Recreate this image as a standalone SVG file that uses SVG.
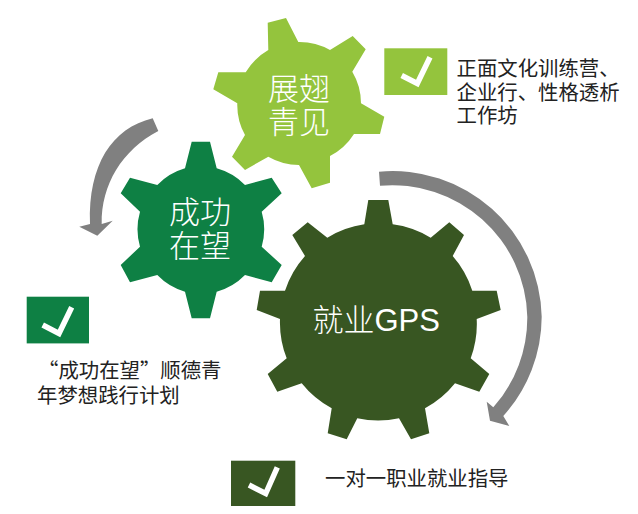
<svg xmlns="http://www.w3.org/2000/svg" width="638" height="514" viewBox="0 0 638 514">
<style>
.big{font-family:"Noto Sans CJK SC","Liberation Sans",sans-serif;font-size:31px;font-weight:300;fill:#fff;text-anchor:middle}
.lab{font-family:"Noto Sans CJK SC","Liberation Sans",sans-serif;font-size:20.4px;font-weight:400;fill:#222}
.chk{fill:none;stroke:#fff;stroke-width:5.5}
.arrow{fill:#808080}
</style>
<rect width="638" height="514" fill="#fff"/>
<g id="connectors">
<path class="arrow" d="M152.700 118.300C112 128 88 165 90 224L79.300 226.700L97.300 235.700L112.700 220.700L101.700 224C101 185 122 150 158.300 131Z"/>
<path class="arrow" d="M379 171.700A149 149 0 0 1 541.700 316.700A149 149 0 0 1 503.300 416L509.300 426L490 420.700L486.700 401.700L493.300 407.300A135 135 0 0 0 527.300 316.700A135 135 0 0 0 380 185.700Z"/>
</g>
<g id="gear-light">
<path fill="#94c43d" d="M267.700 22.700L286 18L298.300 42A62 62 0 0 1 330 50L352.700 36L365.700 49.300L352.300 71.700A62 62 0 0 1 361 103.300L384.300 116.700L380 134L354 134A62 62 0 0 1 330 156L330 182.700L311.700 188.300L299 165A62 62 0 0 1 268.300 156.700L245 170L232 156.700L245 135A62 62 0 0 1 237.300 103.300L213.300 89.300L218.300 72.300L245.700 72.300A62 62 0 0 1 268.300 50Z"/>
<text class="big"><tspan x="299" y="100">展翅</tspan><tspan x="299" y="133">青见</tspan></text>
</g>
<g id="gear-mid">
<path fill="#0e8044" d="M191.700 141.700L210 141.700L216.700 168.300A63 63 0 0 1 245 185L271.700 177.700L281.700 193.300L261.700 211.700A63 63 0 0 1 261.700 246.700L281.700 265L271.700 282.300L245 275A63 63 0 0 1 216.700 291.700L210 318.300L191.700 318.300L185 291.700A63 63 0 0 1 157.300 275L130 282.300L120.700 265L140 246.700A63 63 0 0 1 140 211.700L120.700 193.300L130 177.700L157.300 185A63 63 0 0 1 185 168.300Z"/>
<text class="big"><tspan x="200" y="223">成功</tspan><tspan x="200" y="257">在望</tspan></text>
</g>
<g id="gear-dark">
<path fill="#385622" d="M368.300 200L388.300 200L392.700 224.300A98 98 0 0 1 430.700 237.700L449.300 222.300L464 235L452.700 256A98 98 0 0 1 472.300 290.700L496.700 290.700L500.700 310L476.700 319A98 98 0 0 1 470.700 358.300L489.300 374L479.300 391.700L455 383.300A98 98 0 0 1 425 408.300L429.300 433.300L411 439.300L399 418.300A98 98 0 0 1 357.300 418.300L346.700 439.300L327.700 433.300L331.700 408.300A98 98 0 0 1 301.700 383.300L277.300 391.700L267.700 374L286.700 358.300A98 98 0 0 1 280 319L256.700 310L260 290.700L285 290.700A98 98 0 0 1 305 256L292.300 235L307.700 222.300L327.300 237.700A98 98 0 0 1 364.300 224.300Z"/>
<text x="312.500" y="331" style="font-family:'Noto Sans CJK SC','Liberation Sans',sans-serif;font-size:31px;font-weight:300;fill:#fff">就业<tspan style="font-family:'Liberation Sans',sans-serif">GPS</tspan></text>
</g>
<g id="check-light">
<rect x="384.300" y="48.300" width="63" height="46.700" fill="#94c43d"/>
<polyline class="chk" points="401.700,75.500 417.300,83.500 430,57.300"/>
</g>
<g id="check-mid">
<rect x="26.700" y="296.700" width="62.300" height="46.700" fill="#0e8044"/>
<polyline class="chk" points="42.700,325 59,333.500 71.700,307.300"/>
</g>
<g id="check-dark">
<rect x="231" y="460.700" width="64.300" height="45.300" fill="#385622"/>
<polyline class="chk" points="249,485 265.700,493.500 277.300,467.300"/>
</g>
<g id="label-light">
<text class="lab"><tspan x="456.500" y="76">正面文化训练营、</tspan><tspan x="456.500" y="100">企业行、性格透析</tspan><tspan x="456.500" y="123">工作坊</tspan></text>
</g>
<g id="label-mid">
<text class="lab"><tspan x="38" y="378">“成功在望”顺德青</tspan><tspan x="37" y="403">年梦想践行计划</tspan></text>
</g>
<g id="label-dark">
<text class="lab" x="325" y="486">一对一职业就业指导</text>
</g>
</svg>
